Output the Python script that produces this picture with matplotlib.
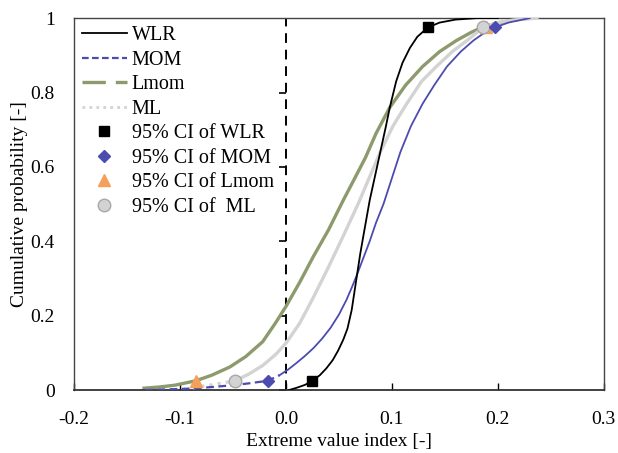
import matplotlib.pyplot as plt
from matplotlib.lines import Line2D
import numpy as np

plt.rcParams['font.family'] = ['Liberation Serif', 'DejaVu Serif']
plt.rcParams['font.size'] = 14

# curves: (extreme value index, cumulative probability)
wlr_x = [0.003, 0.010, 0.018, 0.025, 0.032, 0.038, 0.044, 0.049, 0.054, 0.058, 0.062, 0.066,
         0.070, 0.074, 0.079, 0.084, 0.089, 0.094, 0.098, 0.104, 0.110, 0.117, 0.124, 0.134,
         0.145, 0.160, 0.180, 0.200]
wlr_y = [0.000, 0.006, 0.014, 0.025, 0.040, 0.058, 0.080, 0.105, 0.135, 0.165, 0.215, 0.290,
         0.365, 0.430, 0.510, 0.575, 0.640, 0.705, 0.760, 0.830, 0.880, 0.920, 0.950, 0.975,
         0.988, 0.996, 1.000, 1.000]

mom_x = [-0.133, -0.110, -0.090, -0.070, -0.050, -0.035, -0.017, -0.006, 0.002, 0.010, 0.018,
         0.026, 0.034, 0.042, 0.050, 0.057, 0.062, 0.067, 0.073, 0.079, 0.085, 0.092, 0.100,
         0.108, 0.118, 0.129, 0.140, 0.152, 0.165, 0.177, 0.187, 0.197, 0.210, 0.230]
mom_y = [0.000, 0.002, 0.004, 0.008, 0.013, 0.018, 0.025, 0.040, 0.055, 0.073, 0.092,
         0.113, 0.138, 0.167, 0.203, 0.242, 0.275, 0.310, 0.355, 0.400, 0.450, 0.500, 0.570,
         0.640, 0.710, 0.770, 0.820, 0.870, 0.910, 0.940, 0.960, 0.975, 0.988, 1.000]
mom_tail_end = 7  # dashed up to this index

lmom_x = [-0.134, -0.120, -0.105, -0.085, -0.070, -0.053, -0.038, -0.022, -0.010, 0.000,
          0.013, 0.026, 0.040, 0.054, 0.065, 0.075, 0.085, 0.098, 0.113, 0.129, 0.145, 0.161,
          0.175, 0.185, 0.200, 0.215, 0.230]
lmom_y = [0.005, 0.008, 0.013, 0.025, 0.040, 0.062, 0.090, 0.130, 0.180, 0.225,
          0.290, 0.360, 0.430, 0.510, 0.570, 0.625, 0.690, 0.760, 0.820, 0.870, 0.910, 0.940,
          0.962, 0.975, 0.987, 0.995, 1.000]

ml_x = [-0.088, -0.070, -0.048, -0.035, -0.022, -0.010, 0.000, 0.013, 0.026, 0.040, 0.055,
        0.068, 0.080, 0.089, 0.101, 0.114, 0.128, 0.142, 0.157, 0.171, 0.186, 0.200, 0.215,
        0.237]
ml_y = [0.006, 0.014, 0.025, 0.043, 0.066, 0.095, 0.126, 0.180, 0.250, 0.330, 0.420,
        0.500, 0.580, 0.640, 0.710, 0.770, 0.830, 0.870, 0.910, 0.940, 0.975, 0.988, 0.995,
        1.000]
ml_tail_end = 2

# 95% confidence interval bounds
ci_wlr = ([0.025, 0.134], [0.025, 0.975])
ci_mom = ([-0.017, 0.197], [0.025, 0.975])
ci_lmom = ([-0.085, 0.189], [0.025, 0.975])
ci_ml = ([-0.048, 0.186], [0.025, 0.975])

xticks = [-0.2, -0.1, 0.0, 0.1, 0.2, 0.3]
xticklabels = ['-0.2', '-0.1', '0.0', '0.1', '0.2', '0.3']
yticks = [0, 0.2, 0.4, 0.6, 0.8, 1.0]
yticklabels = ['0', '0.2', '0.4', '0.6', '0.8', '1']

c_mom = '#4b4bb0'
c_lmom = '#8c9a6c'
c_ml = '#d3d3d3'
c_tri = '#f4a05a'

fig = plt.figure(figsize=(6.18, 4.53), dpi=100)
ax = fig.add_axes([0.12, 0.139, 0.857, 0.821])

# y axis drawn at x = 0 (dashed) with small ticks
ax.axvline(0, color='k', lw=1.4, ls=(0, (5, 3.5)), zorder=1)
ax.plot([0] * len(yticks), yticks, ls='none', marker=0, ms=5, mew=1.2, color='k', zorder=1)

ax.plot(lmom_x, lmom_y, color=c_lmom, lw=2.4, zorder=2)
ax.plot(ml_x[:ml_tail_end + 1], ml_y[:ml_tail_end + 1], color=c_ml, lw=2.4, ls=(0, (1, 1.5)), zorder=3)
ax.plot(ml_x[ml_tail_end:], ml_y[ml_tail_end:], color=c_ml, lw=2.4, zorder=3)
ax.plot(mom_x[:mom_tail_end + 1], mom_y[:mom_tail_end + 1], color=c_mom, lw=1.6, ls=(0, (3.5, 2)), zorder=4)
ax.plot(mom_x[mom_tail_end:], mom_y[mom_tail_end:], color=c_mom, lw=1.3, zorder=4)
ax.plot(wlr_x, wlr_y, color='k', lw=1.3, zorder=5)

ax.plot(*ci_wlr, ls='none', marker='s', ms=7, color='k', zorder=6)
ax.plot(*ci_lmom, ls='none', marker='^', ms=9, color=c_tri, zorder=6)
ax.plot(*ci_ml, ls='none', marker='o', ms=9, mfc=c_ml, mec='#a8a8a8', zorder=7)
ax.plot(*ci_mom, ls='none', marker='D', ms=6.5, color=c_mom, zorder=8)

ax.set_xlim(-0.2, 0.3)
ax.set_ylim(0, 1)
ax.set_xticks(xticks, labels=xticklabels)
ax.set_yticks(yticks, labels=yticklabels)
ax.tick_params(axis='x', direction='in', length=5, width=1, pad=15)
ax.tick_params(axis='y', length=0, pad=14)
for s in ax.spines.values():
    s.set_color('#444444')
    s.set_linewidth(1.0)
ax.spines['bottom'].set_color('#333333')
ax.spines['bottom'].set_linewidth(1.3)

ax.set_xlabel('Extreme value index [-]', labelpad=4)
ax.set_ylabel('Cumulative probability [-]', labelpad=2)

handles = [
    Line2D([], [], color='k', lw=1.3),
    Line2D([], [], color=c_mom, lw=1.6, ls=(0, (3, 1.5))),
    Line2D([], [], color=c_lmom, lw=2.4, ls=(0, (7, 3))),
    Line2D([], [], color=c_ml, lw=2.0, ls=(0, (1, 1.5))),
    Line2D([], [], ls='none', marker='s', ms=7, color='k'),
    Line2D([], [], ls='none', marker='D', ms=6.5, color=c_mom),
    Line2D([], [], ls='none', marker='^', ms=9, color=c_tri),
    Line2D([], [], ls='none', marker='o', ms=9, mfc=c_ml, mec='#a8a8a8'),
]
labels = ['WLR', 'MOM', 'Lmom', 'ML', '95% CI of WLR', '95% CI of MOM',
          '95% CI of Lmom', '95% CI of  ML']
ax.legend(handles, labels, loc='upper left', frameon=False, fontsize=14.5, handlelength=2.2,
          handletextpad=0.25, labelspacing=0.27, borderaxespad=0.1,
          borderpad=0.3, numpoints=1)

fig.savefig('out.png', dpi=100)
